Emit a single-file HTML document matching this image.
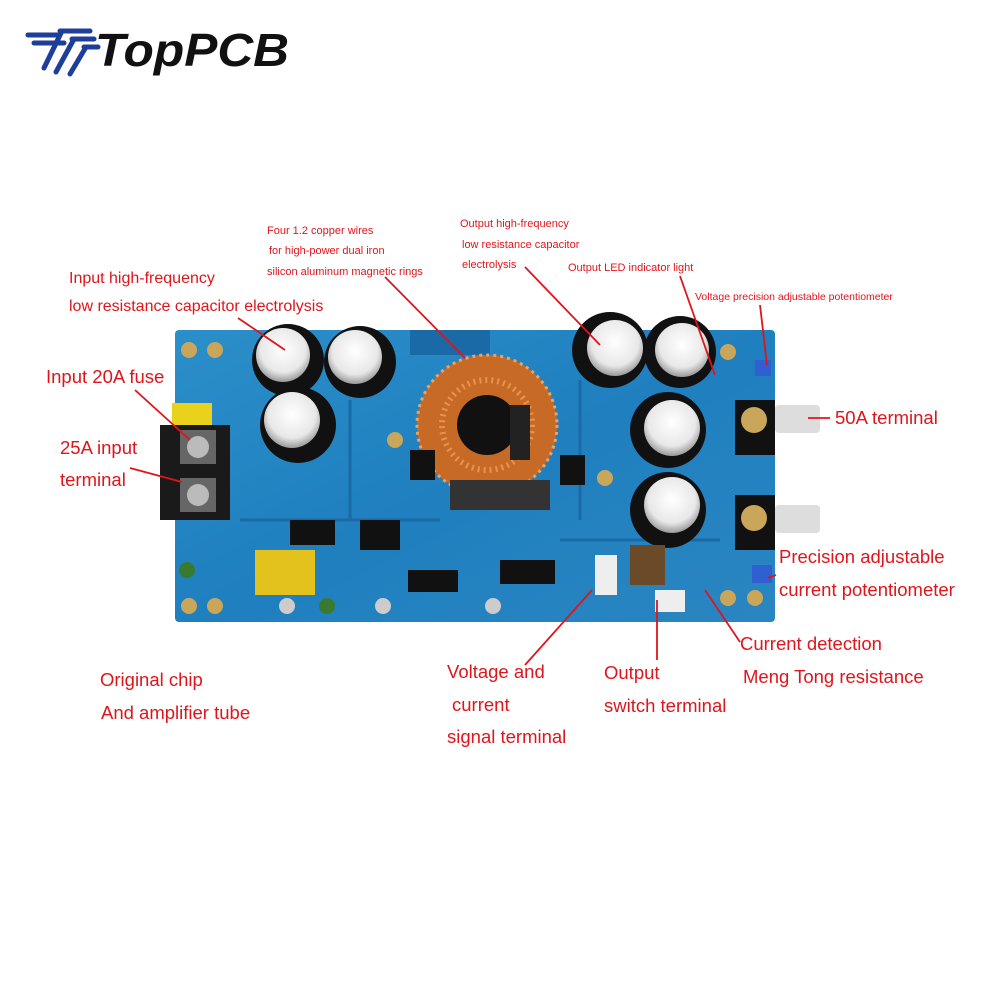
<!DOCTYPE html>
<html><head><meta charset="utf-8"><style>
html,body{margin:0;padding:0;background:#fff;width:1000px;height:1000px;overflow:hidden}
text{font-family:"Liberation Sans",sans-serif;fill:#e0151b}
</style></head><body>
<svg width="1000" height="1000" viewBox="0 0 1000 1000" xmlns="http://www.w3.org/2000/svg">
<defs>
<radialGradient id="cap" cx="50%" cy="40%" r="60%"><stop offset="0" stop-color="#fff"/><stop offset="0.7" stop-color="#e8e8e8"/><stop offset="1" stop-color="#999"/></radialGradient>
<linearGradient id="pcb" x1="0" y1="0" x2="1" y2="1"><stop offset="0" stop-color="#2b8fc9"/><stop offset="0.5" stop-color="#1f7fbf"/><stop offset="1" stop-color="#2a86c0"/></linearGradient>
</defs>
<!-- logo -->
<g stroke="#1d3f9a" stroke-width="5" fill="none" stroke-linecap="round">
<line x1="28" y1="35" x2="58" y2="35"/><line x1="34" y1="43" x2="64" y2="43"/>
<path d="M60 31 H90 M62 31 L44 68 M72 39 H94 M74 39 L56 72 M84 47 H98 M86 47 L70 74"/>
</g>
<text x="95" y="66" transform="scale(1.08,1) translate(-7,0)" style="fill:#111;font-weight:bold;font-style:italic;font-size:46px">TopPCB</text>
<!-- PCB -->
<rect x="175" y="330" width="600" height="292" fill="url(#pcb)" rx="4"/>
<rect x="410" y="330" width="80" height="25" fill="#1a6aa8"/>
<g stroke="#1a6aa8" stroke-width="3" fill="none"><path d="M240 520 H440 M560 540 H720 M350 400 V520 M580 380 V520"/></g>
<!-- left terminal -->
<rect x="160" y="425" width="70" height="95" fill="#1a1a1a"/>
<rect x="180" y="430" width="36" height="34" fill="#666"/><circle cx="198" cy="447" r="11" fill="#bbb"/>
<rect x="180" y="478" width="36" height="34" fill="#666"/><circle cx="198" cy="495" r="11" fill="#bbb"/>
<rect x="172" y="403" width="40" height="22" fill="#e8d21c"/>
<g fill="#c9a65a"><circle cx="189" cy="350" r="8"/><circle cx="215" cy="350" r="8"/><circle cx="189" cy="606" r="8"/><circle cx="215" cy="606" r="8"/><circle cx="728" cy="598" r="8"/><circle cx="755" cy="598" r="8"/><circle cx="728" cy="352" r="8"/><circle cx="605" cy="478" r="8"/><circle cx="395" cy="440" r="8"/></g>
<circle cx="288" cy="360" r="36" fill="#111"/><circle cx="283" cy="355" r="27" fill="url(#cap)"/>
<circle cx="360" cy="362" r="36" fill="#111"/><circle cx="355" cy="357" r="27" fill="url(#cap)"/>
<circle cx="298" cy="425" r="38" fill="#111"/><circle cx="292" cy="420" r="28" fill="url(#cap)"/>
<circle cx="487" cy="425" r="70" fill="#c66a25"/>
<circle cx="487" cy="425" r="70" fill="none" stroke="#f0a060" stroke-width="3" stroke-dasharray="3 4"/>
<circle cx="487" cy="425" r="45" fill="none" stroke="#e9934a" stroke-width="6" stroke-dasharray="2 4"/>
<circle cx="487" cy="425" r="30" fill="#111"/>
<rect x="510" y="405" width="20" height="55" fill="#222"/>
<circle cx="610" cy="350" r="38" fill="#111"/><circle cx="615" cy="348" r="28" fill="url(#cap)"/>
<circle cx="680" cy="352" r="36" fill="#111"/><circle cx="682" cy="350" r="27" fill="url(#cap)"/>
<circle cx="668" cy="430" r="38" fill="#111"/><circle cx="672" cy="428" r="28" fill="url(#cap)"/>
<circle cx="668" cy="510" r="38" fill="#111"/><circle cx="672" cy="505" r="28" fill="url(#cap)"/>
<rect x="735" y="400" width="40" height="55" fill="#111"/><circle cx="754" cy="420" r="13" fill="#c9a65a"/>
<rect x="775" y="405" width="45" height="28" fill="#ddd" rx="4"/>
<rect x="735" y="495" width="40" height="55" fill="#111"/><circle cx="754" cy="518" r="13" fill="#c9a65a"/>
<rect x="775" y="505" width="45" height="28" fill="#ddd" rx="4"/>
<rect x="755" y="360" width="16" height="16" fill="#2f5fd0"/>
<rect x="752" y="565" width="20" height="18" fill="#2f5fd0"/>
<rect x="255" y="550" width="60" height="45" fill="#e3c21e"/>
<rect x="408" y="570" width="50" height="22" fill="#111"/>
<rect x="500" y="560" width="55" height="24" fill="#111"/>
<rect x="360" y="520" width="40" height="30" fill="#111"/>
<rect x="290" y="520" width="45" height="25" fill="#111"/>
<rect x="450" y="480" width="100" height="30" fill="#333"/>
<rect x="410" y="450" width="25" height="30" fill="#111"/>
<rect x="560" y="455" width="25" height="30" fill="#111"/>
<rect x="595" y="555" width="22" height="40" fill="#eee"/>
<rect x="655" y="590" width="30" height="22" fill="#eee"/>
<rect x="630" y="545" width="35" height="40" fill="#6b4a2a"/>
<circle cx="287" cy="606" r="8" fill="#ccc"/><circle cx="327" cy="606" r="8" fill="#3a7a30"/>
<circle cx="383" cy="606" r="8" fill="#ccc"/><circle cx="493" cy="606" r="8" fill="#ccc"/>
<circle cx="187" cy="570" r="8" fill="#3a7a30"/>
<g stroke="#e0151b" stroke-width="1.8" fill="none">
<line x1="238" y1="318" x2="285" y2="350"/>
<line x1="385" y1="277" x2="465" y2="358"/>
<line x1="525" y1="267" x2="600" y2="345"/>
<line x1="680" y1="276" x2="715" y2="375"/>
<line x1="760" y1="305" x2="767" y2="365"/>
<line x1="135" y1="390" x2="190" y2="440"/>
<line x1="130" y1="468" x2="182" y2="482"/>
<line x1="830" y1="418" x2="808" y2="418"/>
<line x1="776" y1="575" x2="768" y2="578"/>
<line x1="705" y1="590" x2="740" y2="642"/>
<line x1="657" y1="600" x2="657" y2="660"/>
<line x1="592" y1="590" x2="525" y2="665"/>
</g>
<g font-size="16">
<text x="69" y="283">Input high-frequency</text>
<text x="69" y="311">low resistance capacitor electrolysis</text>
</g>
<g font-size="11">
<text x="267" y="234">Four 1.2 copper wires</text>
<text x="269" y="254">for high-power dual iron</text>
<text x="267" y="275">silicon aluminum magnetic rings</text>
<text x="460" y="227">Output high-frequency</text>
<text x="462" y="248">low resistance capacitor</text>
<text x="462" y="268">electrolysis</text>
<text x="568" y="271">Output LED indicator light</text>
<text x="695" y="300" font-size="10.5">Voltage precision adjustable potentiometer</text>
</g>
<g font-size="18.5">
<text x="46" y="383">Input 20A fuse</text>
<text x="60" y="454">25A input</text>
<text x="60" y="486">terminal</text>
<text x="835" y="424">50A terminal</text>
<text x="779" y="563">Precision adjustable</text>
<text x="779" y="596">current potentiometer</text>
<text x="740" y="650">Current detection</text>
<text x="743" y="683">Meng Tong resistance</text>
<text x="100" y="686">Original chip</text>
<text x="101" y="719">And amplifier tube</text>
<text x="447" y="678">Voltage and</text>
<text x="452" y="711">current</text>
<text x="447" y="743">signal terminal</text>
<text x="604" y="679">Output</text>
<text x="604" y="712">switch terminal</text>
</g>
</svg>
</body></html>
